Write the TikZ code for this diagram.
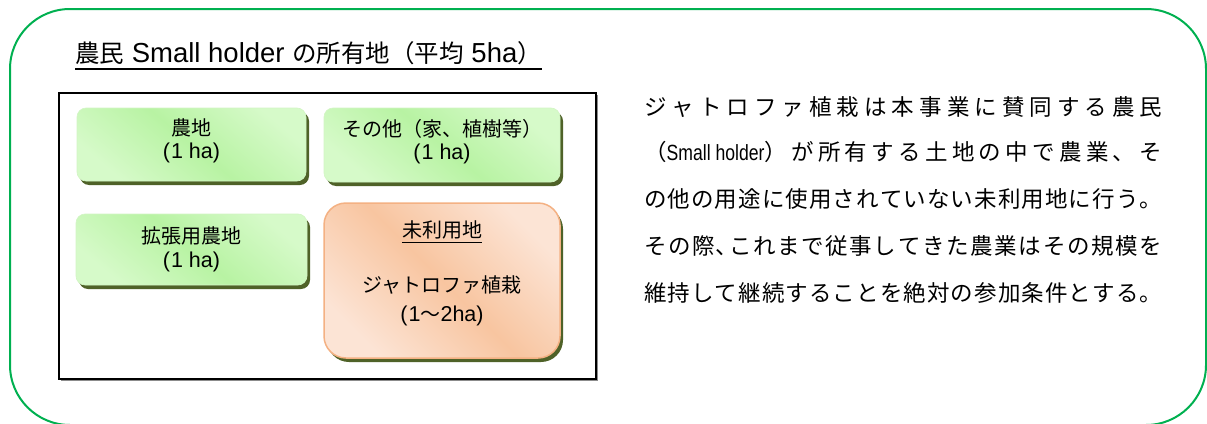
\documentclass[tikz,border=0pt]{standalone}
\usepackage{fontspec}
\usepackage{graphicx}
\setmainfont{Liberation Sans}
\newfontfamily\jp{Noto Sans CJK JP}
\usetikzlibrary{shadows}
\definecolor{frameGreen}{HTML}{00B050}
\definecolor{shadowOlive}{HTML}{4F6228}
\definecolor{gA}{HTML}{B8F3A3}
\definecolor{gB}{HTML}{D6FAC9}
\definecolor{gEdge}{HTML}{D2F5C4}
\definecolor{oA}{HTML}{F8C5A0}
\definecolor{oB}{HTML}{FCE4D5}
\definecolor{oEdge}{HTML}{F4B183}
\makeatletter
\def\spr#1{\spr@a#1\spr@end}
\def\spr@a#1#2\spr@end{#1\ifx\relax#2\relax\else\hfil\spr@a#2\spr@end\fi}
\makeatother
\newcommand\smh{\scalebox{0.8}[1]{\rmfamily\fontsize{22}{22}\selectfont Small holder}}
\newcommand\tj[1]{{\jp\fontsize{24.5}{29}\selectfont #1}}
\begin{document}
\begin{tikzpicture}[x=1pt,y=-1pt,
  greenbox/.style={rounded corners=9pt, top color=gB, bottom color=gB, middle color=gA, shading angle=-40,
    draw=gEdge, line width=0.6pt, inner sep=0pt,
    drop shadow={shadow xshift=3pt, shadow yshift=-4pt, fill=shadowOlive, opacity=1}},
  orangebox/.style={rounded corners=22pt, top color=oB, bottom color=oB, middle color=oA, shading angle=-45,
    draw=oEdge, line width=1.5pt, inner sep=0pt,
    drop shadow={shadow xshift=3pt, shadow yshift=-4pt, fill=shadowOlive, opacity=1}},
  jtext/.style={inner sep=0pt, font=\jp\fontsize{20}{24}\selectfont},
  ltext/.style={inner sep=0pt, font=\fontsize{21.5}{26}\selectfont},
  paraline/.style={inner sep=0pt, anchor=base west, font=\jp\fontsize{22.5}{26}\selectfont},
]
\useasboundingbox (0,0) rectangle (1207,423);
% outer frame
\draw[frameGreen, line width=2pt, rounded corners=60pt] (10,9) rectangle (1206,425);
% title
\node[inner sep=0pt, anchor=base west, font=\fontsize{27.5}{30}\selectfont] (title) at (75,62)
  {\tj{農民} Small holder \tj{の所有地（平均} 5ha\tj{）}};
\draw[line width=1.3pt] ([yshift=-7pt]title.base west) -- ([yshift=-7pt]title.base east);
% land frame
\node[draw, fill=white, line width=2pt, minimum width=537pt, minimum height=286pt, inner sep=0pt,
  drop shadow={shadow xshift=1.5pt, shadow yshift=-1.5pt, fill=black!45, opacity=1}] (land) at (327.5,236) {};
% boxes
\node[greenbox, minimum width=229pt, minimum height=73pt] (farm) at (191.5,144.5) {};
\node[greenbox, minimum width=236pt, minimum height=74pt] (other) at (442,145) {};
\node[greenbox, minimum width=231pt, minimum height=71pt] (ext) at (191.5,249.5) {};
\node[orangebox, minimum width=236pt, minimum height=155pt] (unused) at (442,280.5) {};
% box texts
\node[jtext] (farmA) at (191.5,128) {農地};
\node[ltext] (farmB) at (191.5,153) {(\kern1pt1 ha)};
\node[jtext] (otherA) at (442,129) {その他（家、植樹等）};
\node[ltext] (otherB) at (442,154) {(\kern1pt1 ha)};
\node[jtext] (extA) at (191.5,236) {拡張用農地};
\node[ltext] (extB) at (191.5,262) {(\kern1pt1 ha)};
\node[jtext] (unA) at (442,230) {未利用地};
\draw[line width=1pt] ([yshift=-3pt]unA.south west) -- ([yshift=-3pt]unA.south east);
\node[jtext] (unB) at (442,285) {ジャトロファ植栽};
\node[ltext] (unC) at (442,316) {(\kern1pt1{\jp\fontsize{20}{24}\selectfont 〜}2ha)};
% paragraph
\node[paraline] (p1) at (644,115) {\makebox[518pt][s]{\spr{ジャトロファ植栽は本事業に賛同する農民}}};
\node[paraline] (p2) at (644,160) {\makebox[518pt][s]{\spr{{（\smh）}が所有する土地の中で農業、そ}}};
\node[paraline] (p3) at (644,207) {\makebox[518pt][s]{\spr{の他の用途に使用されていない未利用地に行う。}}};
\node[paraline] (p4) at (644,254) {\makebox[518pt][s]{\spr{その{際、\kern-0.45em}これまで従事してきた農業はその規模を}}};
\node[paraline] (p5) at (644,301) {\makebox[518pt][s]{\spr{維持して継続することを絶対の参加条件とする。}}};
\end{tikzpicture}
\end{document}
